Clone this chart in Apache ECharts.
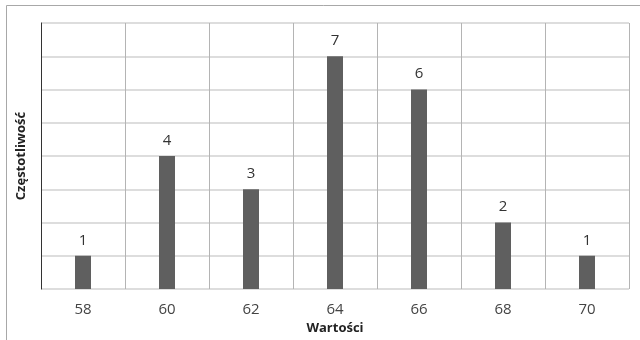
<!DOCTYPE html>
<html><head><meta charset="utf-8">
<script src="https://cdn.jsdelivr.net/npm/echarts@6/dist/echarts.min.js"></script>
<style>html,body{margin:0;padding:0;background:#fff}#c{width:640px;height:340px}</style>
</head><body><div id="c"></div>
<script>
const categories = ['58','60','62','64','66','68','70'];
const frequencies = [1,4,3,7,6,2,1];
const yTitle = 'Częstotliwość';
const xTitle = 'Wartości';

const chart = echarts.init(document.getElementById('c'), null, {renderer:'canvas'});
chart.setOption({
  animation:false,
  backgroundColor:'#fff',
  textStyle:{fontFamily:'Open Sans'},
  grid:{left:41,right:11,top:23,bottom:51,containLabel:false},
  graphic:[{type:'polyline',silent:true,shape:{points:[[6.5,340],[6.5,5.5],[640,5.5]]},style:{stroke:'#a8a8a8',lineWidth:1,fill:null}}],
  xAxis:{type:'category',data:categories,boundaryGap:true,
    axisLine:{show:false},axisTick:{show:false},
    splitLine:{show:true,lineStyle:{color:'#b4b4b4',width:1}},
    axisLabel:{color:'#444',fontSize:15,margin:13,fontFamily:'Open Sans'},
    name:xTitle,nameLocation:'middle',nameGap:31,
    nameTextStyle:{fontWeight:'bold',fontSize:13,color:'#222',fontFamily:'Open Sans'}},
  yAxis:{type:'value',min:0,max:8,interval:1,
    axisLine:{show:true,lineStyle:{color:'#333',width:1}},axisTick:{show:false},
    axisLabel:{show:false},
    splitLine:{show:true,lineStyle:{color:'#d2d2d2',width:1.5}},
    name:yTitle,nameLocation:'middle',nameGap:13,nameRotate:90,
    nameTextStyle:{fontWeight:'bold',fontSize:13,color:'#222',fontFamily:'Open Sans'}},
  series:[{type:'bar',data:frequencies,barWidth:16,
    itemStyle:{color:'#5f5f5f'},
    label:{show:true,position:'top',distance:8,color:'#333',fontSize:15,fontFamily:'Open Sans'}}]
});
</script></body></html>
